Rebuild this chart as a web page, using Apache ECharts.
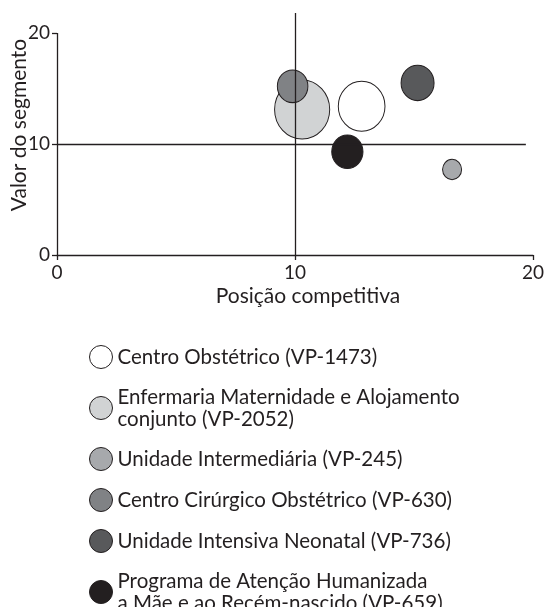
<!DOCTYPE html>
<html>
<head>
    <meta charset="UTF-8">
    <title>Matriz de portfólio</title>
    <script src="https://cdn.jsdelivr.net/npm/echarts@6.0.0/dist/echarts.min.js"></script>
    <style>
        html, body { margin: 0; padding: 0; background: #fff; }
        #chart { width: 545px; height: 607px; }
    </style>
</head>
<body>
    <div id="chart"></div>
    <script>
        // segmentos (ordem da legenda)
        var names = [
            'Centro Obstétrico (VP-1473)',
            'Enfermaria Maternidade e Alojamento\nconjunto (VP-2052)',
            'Unidade Intermediária (VP-245)',
            'Centro Cirúrgico Obstétrico (VP-630)',
            'Unidade Intensiva Neonatal (VP-736)',
            'Programa de Atenção Humanizada\na Mãe e ao Recém-nascido (VP-659)'
        ];
        var posicao = [12.8, 10.3, 16.6, 9.9, 15.15, 12.2];   // eixo x
        var valor = [13.4, 13.1, 7.7, 15.2, 15.5, 9.3];       // eixo y
        var vp = [1473, 2052, 245, 630, 736, 659];            // tamanho da bolha
        var cores = ['#ffffff', '#d1d3d4', '#a7a9ac', '#808285', '#58595b', '#231f20'];
        var ticks = [0, 10, 20];
        var corte = 10;

        var chart = echarts.init(document.getElementById('chart'));
        var ink = '#231f20';
        var font = 'Lato';

        var series = names.map(function (n, i) {
            return {
                name: n,
                type: 'scatter',
                data: [[posicao[i], valor[i], vp[i]]],
                symbolSize: function (d) {
                    var r = Math.sqrt(d[2]);
                    return [1.217 * r, 1.303 * r];
                },
                itemStyle: { color: cores[i], borderColor: ink, borderWidth: 1, opacity: 1 },
                emphasis: { disabled: true },
                z: 2
            };
        });

        // linhas dos quadrantes e eixo y
        series.push({
            type: 'scatter',
            data: [],
            silent: true,
            z: 5,
            markLine: {
                silent: true,
                symbol: 'none',
                label: { show: false },
                lineStyle: { color: ink, width: 1.3, type: 'solid' },
                emphasis: { disabled: true },
                animation: false,
                data: [
                    [{ coord: [corte, 0] }, { coord: [corte, 21.8] }],
                    [{ coord: [0, corte] }, { coord: [19.7, corte] }],
                    [{ coord: [0, 0] }, { coord: [0, 20] }]
                ]
            }
        });

        var option = {
            animation: false,
            textStyle: { fontFamily: font, color: ink },
            grid: { left: 57, right: 12, top: 13, height: 242, containLabel: false, outerBoundsMode: 'none' },
            xAxis: {
                type: 'value',
                min: 0, max: 20, interval: 10,
                name: 'Posição competitiva',
                nameLocation: 'middle',
                nameGap: 31,
                nameMoveOverlap: false,
                nameTextStyle: { fontFamily: font, fontSize: 21, color: ink, padding: [0, 0, 0, 26] },
                axisLine: { show: true, lineStyle: { color: ink, width: 1.3 } },
                axisTick: { show: true, length: 5, lineStyle: { color: ink, width: 1.3 } },
                axisLabel: { fontFamily: font, fontSize: 19, color: ink, margin: 8 },
                splitLine: { show: false }
            },
            yAxis: {
                type: 'value',
                min: 0, max: 21.8,
                name: 'Valor do segmento',
                nameLocation: 'middle',
                nameGap: 27,
                nameMoveOverlap: false,
                nameTextStyle: { fontFamily: font, fontSize: 21, color: ink, padding: [0, 0, 0, 18] },
                axisLine: { show: false },
                axisTick: { show: true, length: 5, customValues: ticks, lineStyle: { color: ink, width: 1.3 } },
                axisLabel: { fontFamily: font, fontSize: 19, color: ink, margin: 7, customValues: ticks },
                splitLine: { show: false }
            },
            legend: {
                data: names,
                orient: 'vertical',
                left: 89,
                top: 345,
                height: 300,
                padding: 0,
                icon: 'circle',
                itemWidth: 23,
                itemHeight: 23,
                itemGap: 17,
                selectedMode: false,
                itemStyle: { borderColor: ink, borderWidth: 1 },
                textStyle: { fontFamily: font, fontSize: 20.5, color: ink, lineHeight: 22 }
            },
            series: series
        };
        chart.setOption(option);
    </script>
</body>
</html>
